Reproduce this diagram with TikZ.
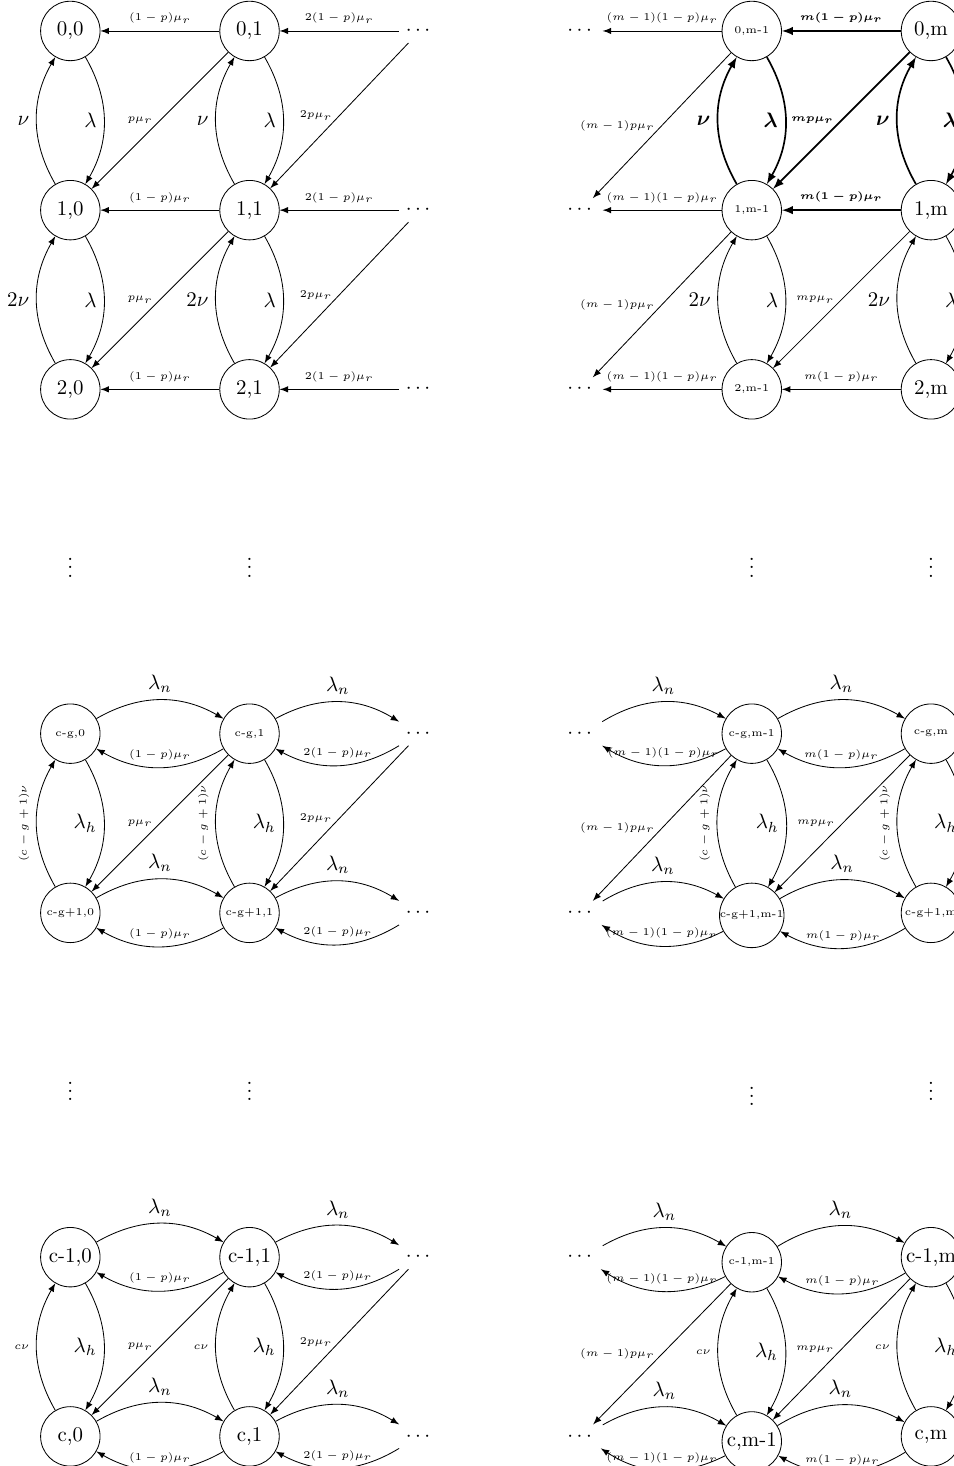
\documentclass[tikz,border=0pt]{standalone}
\usepackage{amsmath}
\usepackage{xcolor}
\usepackage{tikz}
\usetikzlibrary{positioning,arrows}

\tikzset{
  state/.style={circle, draw, minimum size=1cm, inner sep=0pt},
  lab/.style={font=\tiny},
  hl/.style={thick},
}

\begin{document}
\begin{tikzpicture}[node distance=2cm, >=latex]
\useasboundingbox (-1.183,0.521) rectangle (14.848,-24.138);

% states 0..2
\node[state] (a0) {0,0};
\node[state, right=of a0] (a1) {0,1};
\node[right=of a1] (ad) {$\cdots$};
\node[right=of ad] (ae) {$\cdots$};
\node[state, lab, right=of ae] (ap) {0,m-1};
\node[state, right=of ap] (am) {0,m};

\node[state, below=of a0] (b0) {1,0};
\node[state, below=of a1] (b1) {1,1};
\node[right=of b1] (bd) {$\cdots$};
\node[right=of bd] (be) {$\cdots$};
\node[state, lab, below=of ap] (bp) {1,m-1};
\node[state, below=of am] (bm) {1,m};

\node[state, below=of b0] (c0) {2,0};
\node[state, below=of b1] (c1) {2,1};
\node[right=of c1] (cd) {$\cdots$};
\node[right=of cd] (ce) {$\cdots$};
\node[state, lab, below=of bp] (cp) {2,m-1};
\node[state, below=of bm] (cm) {2,m};

\foreach \x in {0,1,p,m}
  \node[below=of c\x] (v\x) {$\vdots$};

% states c-g, c-g+1
\node[state, lab, below=of v0] (g0) {c-g,0};
\node[state, lab, below=of v1] (g1) {c-g,1};
\node[right=of g1] (gd) {$\cdots$};
\node[right=of gd] (ge) {$\cdots$};
\node[state, lab, below=of vp] (gp) {c-g,m-1};
\node[state, lab, below=of vm] (gm) {c-g,m};

\node[state, lab, below=of g0] (h0) {c-g+1,0};
\node[state, lab, below=of g1] (h1) {c-g+1,1};
\node[right=of h1] (hd) {$\cdots$};
\node[right=of hd] (he) {$\cdots$};
\node[state, lab, below=of gp] (hp) {c-g+1,m-1};
\node[state, lab, below=of gm] (hm) {c-g+1,m};

\foreach \x in {0,1,p,m}
  \node[below=of h\x] (w\x) {$\vdots$};

% states c-1, c
\node[state, below=of w0] (k0) {c-1,0};
\node[state, below=of w1] (k1) {c-1,1};
\node[right=of k1] (kd) {$\cdots$};
\node[right=of kd] (ke) {$\cdots$};
\node[state, lab, below=of wp] (kp) {c-1,m-1};
\node[state, below=of wm] (km) {c-1,m};

\node[state, below=of k0] (l0) {c,0};
\node[state, below=of k1] (l1) {c,1};
\node[right=of l1] (ld) {$\cdots$};
\node[right=of ld] (le) {$\cdots$};
\node[state, below=of kp] (lp) {c,m-1};
\node[state, below=of km] (lm) {c,m};

% straight rates
\foreach \row in {a,b,c} {
  \draw[->] (\row1) -- node[above, lab] {$(1-p)\mu_r$} (\row0);
  \draw[->] (\row d) -- node[above, lab] {$2(1-p)\mu_r$} (\row1);
  \draw[->] (\row p) -- node[above, lab] {$(m-1)(1-p)\mu_r$} (\row e);
}
\foreach \row in {a,b}
  \draw[->, hl] (\row m) -- node[above, lab] {$\boldsymbol{m(1-p)\mu_r}$} (\row p);
\draw[->] (cm) -- node[above, lab] {$m(1-p)\mu_r$} (cp);

% curved rates
\foreach \row in {g,h,k,l} {
  \draw[->] (\row0) to[bend left] node[above] {$\lambda_n$} (\row1);
  \draw[->] (\row1) to[bend left] node[above, lab] {$(1-p)\mu_r$} (\row0);
  \draw[->] (\row1) to[bend left] node[above] {$\lambda_n$} (\row d);
  \draw[->] (\row d) to[bend left] node[above, lab] {$2(1-p)\mu_r$} (\row1);
  \draw[->] (\row e) to[bend left] node[above] {$\lambda_n$} (\row p);
  \draw[->] (\row p) to[bend left] node[above, lab] {$(m-1)(1-p)\mu_r$} (\row e);
  \draw[->] (\row p) to[bend left] node[above] {$\lambda_n$} (\row m);
  \draw[->] (\row m) to[bend left] node[above, lab] {$m(1-p)\mu_r$} (\row p);
}

% diagonals
\foreach \hi/\lo in {a/b, b/c, g/h, k/l} {
  \draw[->] (\hi1) -- node[left, lab] {$p\mu_r$} (\lo0);
  \draw[->] (\hi d) -- node[left, lab] {$2p\mu_r$} (\lo1);
  \draw[->] (\hi p) -- node[left, lab] {$(m-1)p\mu_r$} (\lo e);
}
\draw[->, hl] (am) -- node[left, lab] {$\boldsymbol{mp\mu_r}$} (bp);
\foreach \hi/\lo in {b/c, g/h, k/l}
  \draw[->] (\hi m) -- node[left, lab] {$mp\mu_r$} (\lo p);

% vertical rates
\foreach \x in {0,1} {
  \draw[->] (b\x) to[bend left] node[left] {$\nu$} (a\x);
  \draw[->] (a\x) to[bend left] node[left] {$\lambda$} (b\x);
}
\foreach \x in {p,m} {
  \draw[->, hl] (b\x) to[bend left] node[left] {$\boldsymbol{\nu}$} (a\x);
  \draw[->, hl] (a\x) to[bend left] node[left] {$\boldsymbol{\lambda}$} (b\x);
}
\foreach \x in {0,1,p,m} {
  \draw[->] (c\x) to[bend left] node[left] {$2\nu$} (b\x);
  \draw[->] (b\x) to[bend left] node[left] {$\lambda$} (c\x);
  \draw[->] (h\x) to[bend left] node[above, rotate=90, lab] {$(c-g+1)\nu$} (g\x);
  \draw[->] (g\x) to[bend left] node[left] {$\lambda_h$} (h\x);
  \draw[->] (l\x) to[bend left] node[left, lab] {$c\nu$} (k\x);
  \draw[->] (k\x) to[bend left] node[left] {$\lambda_h$} (l\x);
}
\end{tikzpicture}
\end{document}
